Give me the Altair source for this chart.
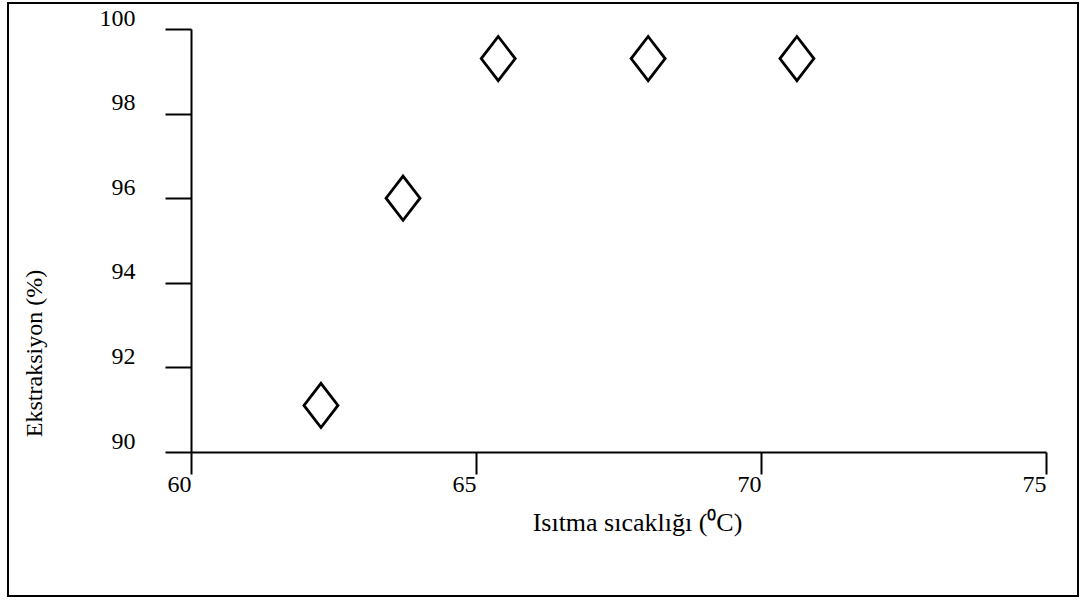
import altair as alt
import pandas as pd

temps = [62.28, 63.72, 65.39, 68.02, 70.63]
extraction = [91.1, 96.0, 99.3, 99.3, 99.3]
x_ticks = [60, 65, 70, 75]
y_ticks = [90, 92, 94, 96, 98, 100]

df = pd.DataFrame({"t": temps, "e": extraction})

font = "Liberation Serif"
diamond = "M0,-1.3L1,0L0,1.3L-1,0Z"

points = alt.Chart(df).mark_point(
    shape=diamond, size=1156, filled=False, stroke="black", strokeWidth=2.8, opacity=1
).encode(
    x=alt.X("t:Q", scale=alt.Scale(domain=[60, 75], nice=False, zero=False),
            axis=alt.Axis(values=x_ticks, title="Isıtma sıcaklığı (⁰C)", grid=False,
                          tickSize=22, tickWidth=2, tickColor="black",
                          domainColor="black", domainWidth=2,
                          labelFont=font, labelFontSize=24, labelColor="black",
                          labelPadding=-2, labelOffset=-12, labelFlush=False,
                          titleFont=font, titleFontSize=26, titleFontWeight="normal",
                          titleColor="black", titleX=446, titleY=70,
                          titleBaseline="middle", titleAlign="center")),
    y=alt.Y("e:Q", scale=alt.Scale(domain=[90, 100], nice=False, zero=False),
            axis=alt.Axis(values=y_ticks, title="Ekstraksiyon (%)", grid=False,
                          tickSize=26, tickWidth=2, tickColor="black",
                          domainColor="black", domainWidth=2,
                          labelFont=font, labelFontSize=24, labelColor="black",
                          labelPadding=30, labelOffset=-11, labelFlush=False,
                          titleFont=font, titleFontSize=24, titleFontWeight="normal",
                          titleColor="black", titleAngle=-90, titleX=-157, titleY=324,
                          titleBaseline="middle", titleAlign="center")),
)

frame = alt.Chart(pd.DataFrame({"a": [0]})).mark_rect(
    fill="transparent", stroke="black", strokeWidth=2
).encode(
    x=alt.value(-183), x2=alt.value(887), y=alt.value(-26), y2=alt.value(567)
)

chart = alt.layer(frame, points).properties(
    width=855, height=423,
    autosize=alt.AutoSizeParams(type="none"),
    padding={"left": 191, "top": 29, "right": 41, "bottom": 148},
    background="white",
).configure_view(stroke="transparent")

chart.save("out.html", embed_options={"renderer": "svg", "actions": False})
